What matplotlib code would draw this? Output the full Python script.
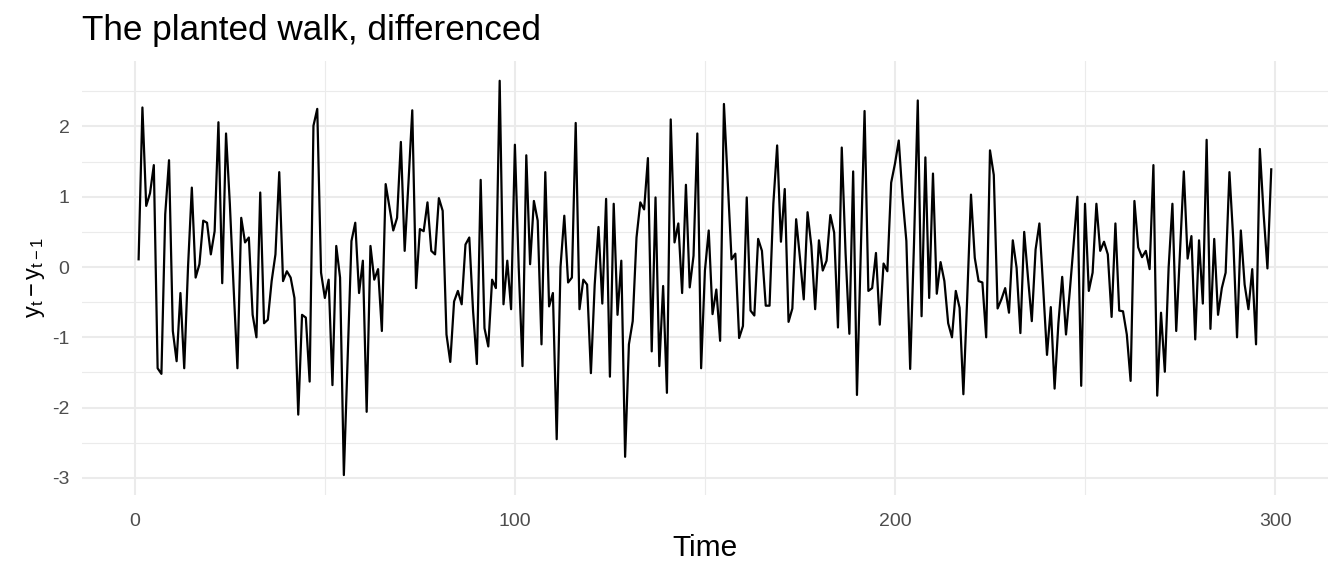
import numpy as np
import matplotlib
matplotlib.use('Agg')
import matplotlib.pyplot as plt
from matplotlib.ticker import MultipleLocator

# differenced series (t = 1..299)
diff_values = [
    0.11, 2.27, 0.87, 1.05, 1.45, -1.44, -1.52, 0.75, 1.52, -0.91,
    -1.34, -0.37, -1.44, 0.0, 1.13, -0.15, 0.04, 0.66, 0.63, 0.18,
    0.51, 2.06, -0.23, 1.9,
    0.9, -0.3, -1.44, 0.70, 0.35, 0.42, -0.68, -1.0, 1.06, -0.8,
    -0.75, -0.2, 0.18, 1.35, -0.2, -0.06, -0.15, -0.44, -2.1, -0.68,
    -0.72, -1.63, 2.01, 2.25, -0.08, -0.44,
    -0.18, -1.68, 0.3, -0.15, -2.96, -1.3, 0.37, 0.63, -0.37, 0.09,
    -2.06, 0.3, -0.18, -0.03, -0.91, 1.18, 0.85, 0.52, 0.70, 1.78,
    0.23, 1.2, 2.23, -0.3,
    0.54, 0.51, 0.92, 0.23, 0.18, 0.98, 0.8, -0.96, -1.35, -0.49,
    -0.34, -0.53, 0.32, 0.42, -0.63, -1.38, 1.24, -0.87, -1.13, -0.18,
    -0.3, 2.65, -0.53, 0.09, -0.6,
    1.74, 0.0, -1.41, 1.59, 0.04, 0.94, 0.66, -1.1, 1.35, -0.56,
    -0.37, -2.45, 0.0, 0.73, -0.22, -0.15, 2.05, -0.6, -0.18, -0.25,
    -1.51, -0.25, 0.57, -0.52, 0.97,
    -1.56, 0.9, -0.68, 0.09, -2.7, -1.1, -0.77, 0.42, 0.92, 0.82,
    1.55, -1.2, 0.99, -1.41, -0.27, -1.79, 2.1, 0.35, 0.62, -0.37,
    1.17, -0.29, 0.16, 1.9, -1.44,
    -0.05, 0.52, -0.67, -0.32, -1.05, 2.32, 1.23, 0.11, 0.19, -1.01,
    -0.84, 0.99, -0.62, -0.69, 0.4, 0.23, -0.55, -0.55, 0.9, 1.73,
    0.36, 1.11, -0.78, -0.59, 0.68,
    0.13, -0.46, 0.78, 0.3, -0.6, 0.38, -0.05, 0.09, 0.74, 0.49,
    -0.86, 1.7, 0.2, -0.95, 1.36, -1.82, 0.2, 2.22, -0.34, -0.3,
    0.2, -0.82, 0.05, -0.06, 1.2,
    1.47, 1.8, 0.99, 0.37, -1.45, 0.32, 2.37, -0.7, 1.56, -0.44,
    1.33, -0.38, 0.07, -0.2, -0.8, -1.0, -0.34, -0.58, -1.81, -0.45,
    1.03, 0.13, -0.2, -0.22, -1.0,
    1.66, 1.31, -0.59, -0.46, -0.3, -0.65, 0.38, -0.01, -0.94, 0.5,
    -0.15, -0.77, 0.25, 0.62, -0.3, -1.25, -0.57, -1.73, -0.8, -0.14,
    -0.96, -0.34, 0.32, 1.0, -1.69,
    0.9, -0.34, -0.08, 0.9, 0.23, 0.36, 0.18, -0.71, 0.62, -0.62,
    -0.63, -0.96, -1.62, 0.94, 0.28, 0.14, 0.23, -0.03, 1.45, -1.83,
    -0.65, -1.49, -0.01, 0.9, -0.91,
    0.23, 1.36, 0.12, 0.44, -1.03, 0.38, -0.52, 1.81, -0.88, 0.4,
    -0.68, -0.3, -0.08, 1.35, 0.4, -1.0, 0.52, -0.25, -0.6, -0.03,
    -1.1, 1.68, 0.75, -0.02, 1.39,
]
time = np.arange(1, len(diff_values) + 1)

x_ticks = [0, 100, 200, 300]
y_ticks = [-3, -2, -1, 0, 1, 2]

plt.rcParams['font.family'] = ['Liberation Sans', 'DejaVu Sans']
plt.rcParams['axes.unicode_minus'] = False
plt.rcParams['mathtext.fontset'] = 'custom'
plt.rcParams['mathtext.rm'] = 'Liberation Sans'
plt.rcParams['mathtext.it'] = 'Liberation Sans'

fig = plt.figure(figsize=(13.44, 5.76), dpi=100)
ax = fig.add_axes([0.061, 0.141, 0.927, 0.753])

ax.plot(time, diff_values, color='black', lw=1.6, zorder=3)

# ggplot-like expansion of 5%
xr = time.max() - time.min()
ax.set_xlim(time.min() - 0.05 * xr, time.max() + 0.05 * xr)
v = np.array(diff_values)
yr = v.max() - v.min()
ax.set_ylim(v.min() - 0.05 * yr, v.max() + 0.05 * yr)

ax.set_xticks(x_ticks)
ax.set_yticks(y_ticks)
ax.xaxis.set_minor_locator(MultipleLocator(50))
ax.yaxis.set_minor_locator(MultipleLocator(0.5))
ax.grid(which='major', color='#EBEBEB', lw=1.5)
ax.grid(which='minor', color='#EBEBEB', lw=0.8)
ax.set_axisbelow(True)
for s in ax.spines.values():
    s.set_visible(False)
ax.tick_params(which='both', length=0)
ax.tick_params(axis='both', labelsize=14, labelcolor='#4D4D4D')
ax.tick_params(axis='x', pad=13)
ax.tick_params(axis='y', pad=9)

ax.set_xlabel('Time', fontsize=21.5, labelpad=3)
ax.set_ylabel(r'$\mathrm{y_t - y_{t-1}}$', fontsize=17, labelpad=4)
ax.set_title('The planted walk, differenced', fontsize=25.3, loc='left', pad=15)

fig.savefig('out.png', dpi=100)
